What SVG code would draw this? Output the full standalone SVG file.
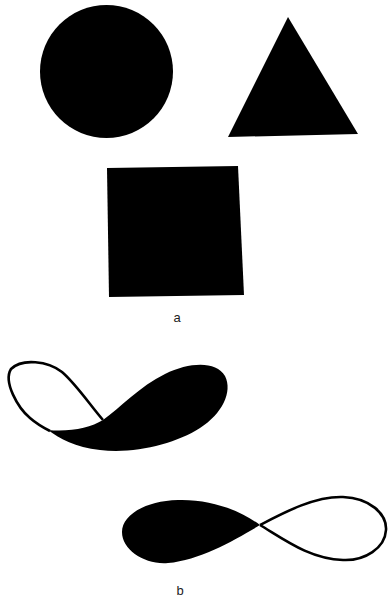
<svg xmlns="http://www.w3.org/2000/svg" width="389" height="600" viewBox="0 0 389 600">
<style>
.f{fill:#000;stroke:none}
.o{fill:none;stroke:#000;stroke-width:2.6;stroke-linejoin:round}
.l{font-family:"Liberation Sans",Arial,sans-serif;font-size:13px;fill:#222;text-anchor:middle}
</style>
<rect width="389" height="600" fill="#fff"/>
<g id="circle"><circle class="f" cx="106.5" cy="71.5" r="66.5"/></g>
<g id="triangle"><polygon class="f" points="288,17 228,137 358,134"/></g>
<g id="square"><polygon class="f" points="107,168 238,166 244,295 109,297"/></g>
<g id="label-a"><text class="l" x="177" y="322">a</text></g>
<g id="figure-b1">
<path class="f" d="M103,420 C120,408 140,386 165,374 C190,362 216,361 225,376 C233,392 222,414 200,428 C175,444 135,454 100,450 C75,447 60,439 48,430 C70,432 90,428 103,420 Z"/>
<path class="o" d="M103,420 C90,405 76,384 62,372 C48,361 22,358 11,369 C3,382 18,408 30,418 C38,425 44,428 50,431"/>
</g>
<g id="figure-b2">
<path class="f" d="M260,525 C240,510 210,499 178,500 C145,501 122,515 122,532 C122,550 145,565 168,563 C200,560 235,540 260,525 Z"/>
<path class="o" d="M260,525 C285,512 315,496 343,497 C370,498 387,514 386,530 C385,548 365,561 343,560 C310,559 285,540 260,525"/>
</g>
<g id="label-b"><text class="l" x="180" y="595">b</text></g>
</svg>
